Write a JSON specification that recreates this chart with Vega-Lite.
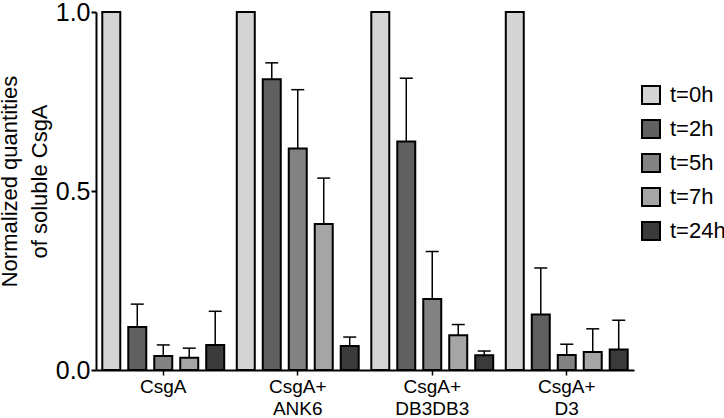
{
  "$schema": "https://vega.github.io/schema/vega-lite/v6.json",
  "width": 538,
  "height": 358,
  "autosize": "none",
  "padding": {"left": 96, "top": 12, "right": 90, "bottom": 48},
  "background": "white",
  "config": {"view": {"stroke": null}, "font": "Liberation Sans"},
  "data": {
    "values": [
      {"group": "CsgA", "time": "t=0h", "value": 1.0, "err": null},
      {"group": "CsgA", "time": "t=2h", "value": 0.12, "err": 0.184},
      {"group": "CsgA", "time": "t=5h", "value": 0.039, "err": 0.07},
      {"group": "CsgA", "time": "t=7h", "value": 0.034, "err": 0.061},
      {"group": "CsgA", "time": "t=24h", "value": 0.07, "err": 0.164},
      {"group": "CsgA+ ANK6", "time": "t=0h", "value": 1.0, "err": null},
      {"group": "CsgA+ ANK6", "time": "t=2h", "value": 0.812, "err": 0.858},
      {"group": "CsgA+ ANK6", "time": "t=5h", "value": 0.619, "err": 0.783},
      {"group": "CsgA+ ANK6", "time": "t=7h", "value": 0.408, "err": 0.536},
      {"group": "CsgA+ ANK6", "time": "t=24h", "value": 0.067, "err": 0.092},
      {"group": "CsgA+ DB3DB3", "time": "t=0h", "value": 1.0, "err": null},
      {"group": "CsgA+ DB3DB3", "time": "t=2h", "value": 0.638, "err": 0.815},
      {"group": "CsgA+ DB3DB3", "time": "t=5h", "value": 0.198, "err": 0.331},
      {"group": "CsgA+ DB3DB3", "time": "t=7h", "value": 0.097, "err": 0.127},
      {"group": "CsgA+ DB3DB3", "time": "t=24h", "value": 0.041, "err": 0.053},
      {"group": "CsgA+ D3", "time": "t=0h", "value": 1.0, "err": null},
      {"group": "CsgA+ D3", "time": "t=2h", "value": 0.155, "err": 0.285},
      {"group": "CsgA+ D3", "time": "t=5h", "value": 0.042, "err": 0.072},
      {"group": "CsgA+ D3", "time": "t=7h", "value": 0.05, "err": 0.115},
      {"group": "CsgA+ D3", "time": "t=24h", "value": 0.057, "err": 0.139}
    ]
  },
  "encoding": {
    "x": {
      "field": "group",
      "type": "nominal",
      "sort": ["CsgA", "CsgA+ ANK6", "CsgA+ DB3DB3", "CsgA+ D3"],
      "scale": {"paddingInner": 0, "paddingOuter": 0},
      "title": null,
      "axis": {
        "labelExpr": "split(datum.label, ' ')",
        "labelAngle": 0,
        "labelFontSize": 19,
        "labelLineHeight": 22,
        "labelPadding": 2,
        "labelColor": "black",
        "tickSize": 5,
        "tickWidth": 1.5,
        "tickColor": "black",
        "domainWidth": 2,
        "domainColor": "black"
      }
    },
    "xOffset": {
      "field": "time",
      "type": "nominal",
      "sort": ["t=0h", "t=2h", "t=5h", "t=7h", "t=24h"],
      "scale": {"paddingInner": 0.3077, "paddingOuter": 0.242}
    },
    "y": {
      "field": "value",
      "type": "quantitative",
      "scale": {"domain": [0, 1], "nice": false},
      "title": ["Normalized quantities", "of soluble CsgA"],
      "axis": {
        "values": [0, 0.5, 1],
        "format": ".1f",
        "grid": false,
        "labelFontSize": 25,
        "labelColor": "black",
        "labelPadding": 1,
        "tickSize": 5,
        "tickWidth": 2,
        "tickColor": "black",
        "domainWidth": 2,
        "domainColor": "black",
        "titleFontSize": 22,
        "titleFontWeight": "normal",
        "titleColor": "black",
        "titleAngle": -90,
        "titleAlign": "center",
        "titleBaseline": "top",
        "titleX": -97,
        "titleY": 169,
        "titleLineHeight": 30
      }
    }
  },
  "layer": [
    {
      "mark": {"type": "bar", "stroke": "black", "strokeWidth": 2},
      "encoding": {
        "color": {
          "field": "time",
          "type": "nominal",
          "scale": {
            "domain": ["t=0h", "t=2h", "t=5h", "t=7h", "t=24h"],
            "range": ["#d4d4d4", "#606060", "#828282", "#a5a5a5", "#3a3a3a"]
          },
          "legend": {
            "title": null,
            "orient": "none",
            "legendX": 544,
            "legendY": 72,
            "symbolType": "square",
            "symbolSize": 324,
            "symbolStrokeColor": "black",
            "symbolStrokeWidth": 2,
            "symbolOpacity": 1,
            "labelFontSize": 22,
            "labelColor": "black",
            "labelOffset": 8,
            "rowPadding": 8
          }
        }
      }
    },
    {
      "transform": [{"filter": "datum.err != null"}],
      "mark": {"type": "rule", "strokeWidth": 1.5, "color": "black"},
      "encoding": {"y2": {"field": "err"}}
    },
    {
      "transform": [{"filter": "datum.err != null"}],
      "mark": {"type": "tick", "size": 13, "thickness": 1.5, "color": "black", "opacity": 1},
      "encoding": {"y": {"field": "err", "type": "quantitative"}}
    }
  ]
}
